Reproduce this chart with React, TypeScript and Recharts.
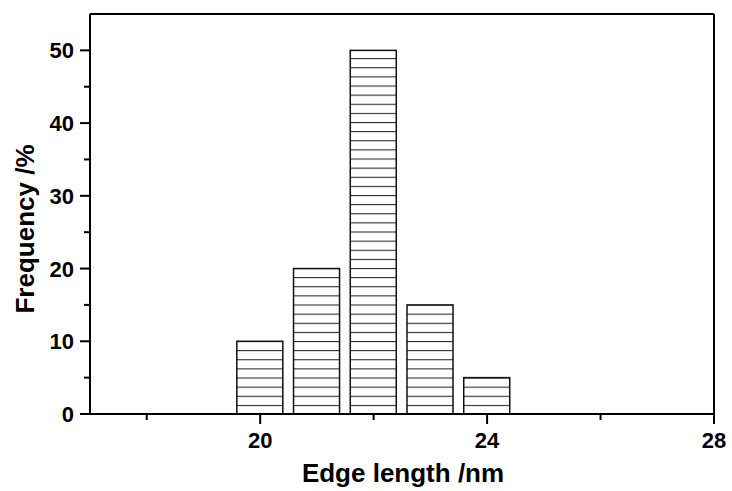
import React from 'react';
import { ComposedChart, Bar, XAxis, YAxis, ReferenceLine, Customized } from 'recharts';

// histogram of edge lengths
const edgeLengths = [20, 21, 22, 23, 24];
const frequencies = [10, 20, 50, 15, 5];
const xTicks = [18, 20, 22, 24, 26, 28];
const xMajor = [20, 24, 28];
const yTicks = [0, 5, 10, 15, 20, 25, 30, 35, 40, 45, 50, 55];
const yMajor = [0, 10, 20, 30, 40, 50];

const data = edgeLengths.map((len, i) => ({ len, freq: frequencies[i] }));

const FONT = '"Liberation Sans", Arial, sans-serif';

const XTick = (props: any) => {
    const { x, y, payload } = props;
    const major = xMajor.includes(payload.value);
    return (
        <g>
            <line x1={x} x2={x} y1={y} y2={y + (major ? 10 : 6)} stroke="#000" strokeWidth={2} />
            {major && (
                <text x={x} y={y + 34} textAnchor="middle" fontSize={22} fontWeight="bold" fontFamily={FONT} fill="#000">
                    {payload.value}
                </text>
            )}
        </g>
    );
};

const YTick = (props: any) => {
    const { x, y, payload } = props;
    const major = yMajor.includes(payload.value);
    if (payload.value === 55) return null;
    return (
        <g>
            <line x1={x} x2={x - (major ? 10 : 6)} y1={y} y2={y} stroke="#000" strokeWidth={2} />
            {major && (
                <text x={x - 16} y={y + 8} textAnchor="end" fontSize={22} fontWeight="bold" fontFamily={FONT} fill="#000">
                    {payload.value}
                </text>
            )}
        </g>
    );
};

const HatchBar = (props: any) => {
    const { x, y, width, height } = props;
    return (
        <g>
            <rect x={x} y={y} width={width} height={height} fill="url(#hatch)" />
            <rect x={x} y={y} width={width} height={height} fill="none" stroke="#111" strokeWidth={1.5} />
        </g>
    );
};

const Titles = () => (
    <g fontFamily={FONT} fontWeight="bold" fontSize={26} fill="#000">
        <text x={403} y={482} textAnchor="middle">Edge length /nm</text>
        <text x={34} y={229} textAnchor="middle" transform="rotate(-90, 34, 229)">Frequency /%</text>
    </g>
);

export default function App() {
    return (
        <div style={{ position: 'absolute', left: 0, top: 0, background: '#fff' }}>
            <ComposedChart width={732} height={491} data={data} margin={{ top: 14, right: 18, left: 0, bottom: 0 }}>
                <defs>
                    <pattern id="hatch" patternUnits="userSpaceOnUse" x={0} y={414} width={20} height={9.125}>
                        <line x1={0} x2={20} y1={0.5} y2={0.5} stroke="#222" strokeWidth={1.1} />
                    </pattern>
                </defs>
                <XAxis
                    dataKey="len"
                    type="number"
                    domain={[17, 28]}
                    ticks={xTicks}
                    interval={0}
                    height={77}
                    tickSize={0}
                    tickMargin={0}
                    tickLine={false}
                    axisLine={{ stroke: '#000', strokeWidth: 2 }}
                    tick={<XTick />}
                    allowDataOverflow
                />
                <YAxis
                    type="number"
                    domain={[0, 55]}
                    ticks={yTicks}
                    interval={0}
                    width={90}
                    tickSize={0}
                    tickMargin={0}
                    tickLine={false}
                    axisLine={{ stroke: '#000', strokeWidth: 2 }}
                    tick={<YTick />}
                />
                <Bar dataKey="freq" barSize={46} shape={<HatchBar />} isAnimationActive={false} />
                <ReferenceLine y={55} stroke="#000" strokeWidth={2} ifOverflow="visible" />
                <ReferenceLine x={28} stroke="#000" strokeWidth={2} ifOverflow="visible" />
                <Customized component={Titles} />
            </ComposedChart>
        </div>
    );
}
